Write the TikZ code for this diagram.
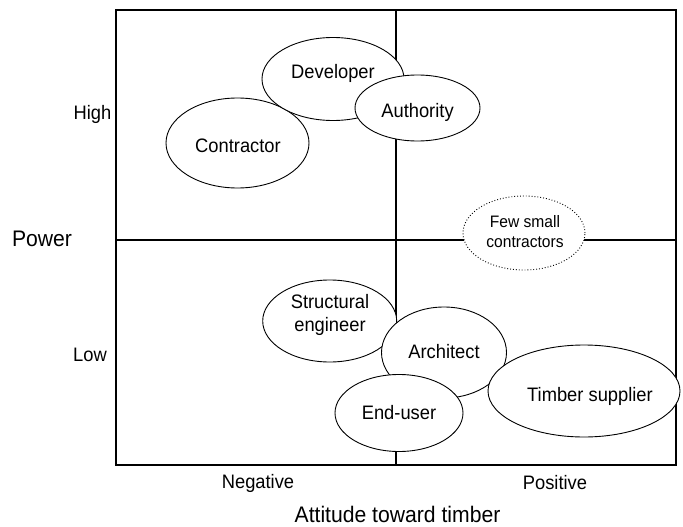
\documentclass[tikz,border=0pt]{standalone}
\usepackage{fontspec}
\setmainfont{Liberation Sans}
\newfontfamily\lab[FakeStretch=0.94]{Liberation Sans}
\usetikzlibrary{shapes.geometric}
\tikzset{
  frameline/.style={line width=2pt, black},
  stake/.style={ellipse, draw, line width=0.9pt, fill=white, inner sep=0pt},
  minor/.style={stake, dotted},
  stxt/.style={align=center, inner sep=0pt, font=\lab\fontsize{19.5}{23.7}\selectfont},
  mtxt/.style={align=center, inner sep=0pt, font=\lab\fontsize{16.6}{20}\selectfont},
  ticklab/.style={font=\lab\fontsize{19.5}{24}\selectfont},
  axislab/.style={font=\lab\fontsize{22.5}{27}\selectfont},
}
\begin{document}
\begin{tikzpicture}[x=1pt,y=-1pt]
\useasboundingbox (0,0) rectangle (683,527);
% frame
\coordinate (tl) at (116,10);
\coordinate (br) at (676,465);
\coordinate (mt) at (396,10);
\coordinate (mb) at (396,465);
\coordinate (ml) at (116,240);
\coordinate (mr) at (676,240);
\draw[frameline] (tl) rectangle (br);
\draw[frameline] (mt) -- (mb);
\draw[frameline] (ml) -- (mr);
% stakeholders
\node[stake, minimum width=143pt, minimum height=90pt] (contractor) at (237.5,143) {};
\node[stxt] (contractorT) at (238,145.5) {Contractor};
\node[stake, minimum width=142pt, minimum height=83pt] (developer) at (333,79) {};
\node[stxt] (developerT) at (333,73) {Developer};
\node[stake, minimum width=125pt, minimum height=66pt] (authority) at (417.5,108) {};
\node[stxt] (authorityT) at (417.5,112.5) {Authority};
\node[stake, minimum width=134pt, minimum height=82pt] (structural) at (329.7,321) {};
\node[stxt] (structuralT) at (330,315) {Structural\\engineer};
\node[stake, minimum width=125pt, minimum height=91pt] (architect) at (444,352.5) {};
\node[stxt] (architectT) at (444,352) {Architect};
\node[stake, minimum width=128pt, minimum height=77pt] (enduser) at (399,413) {};
\node[stxt] (enduserT) at (399,413) {End-user};
\node[stake, minimum width=192pt, minimum height=92pt] (timber) at (584,391) {};
\node[stxt] (timberT) at (590,396) {Timber supplier};
\node[minor, minimum width=122pt, minimum height=74pt] (fewsmall) at (524,233) {};
\node[mtxt] (fewsmallT) at (525,231.5) {Few small\\contractors};
% axis labels
\node[ticklab] (high) at (92.5,114) {High};
\node[ticklab] (low) at (90,355) {Low};
\node[ticklab] (neg) at (258,483) {Negative};
\node[ticklab] (pos) at (555,483) {Positive};
\node[axislab] (power) at (42,239) {Power};
\node[axislab] (attitude) at (397.5,514) {Attitude toward timber};
\end{tikzpicture}
\end{document}
